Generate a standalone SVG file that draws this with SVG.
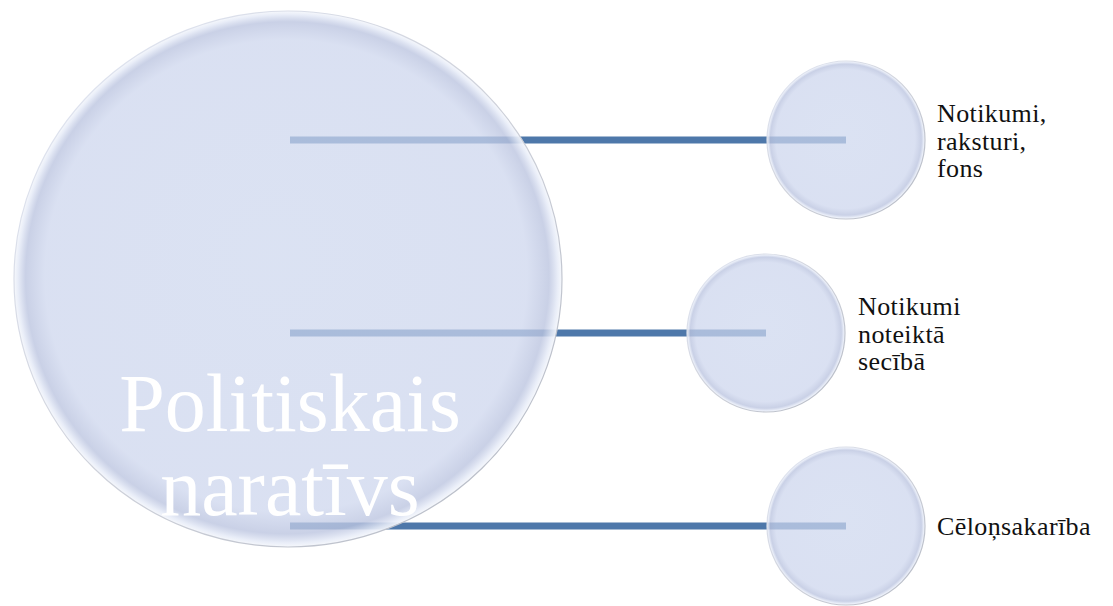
<svg xmlns="http://www.w3.org/2000/svg" width="1113" height="606" viewBox="0 0 1113 606">
  <defs>
    <radialGradient id="bubble" cx="0.5" cy="0.5" r="0.5" fx="0.47" fy="0.45">
      <stop offset="0" stop-color="#cdd7ee" stop-opacity="0.72"/>
      <stop offset="0.88" stop-color="#ccd5ed" stop-opacity="0.73"/>
      <stop offset="0.955" stop-color="#bcc5e0" stop-opacity="0.8"/>
      <stop offset="0.985" stop-color="#e6ebf7" stop-opacity="0.9"/>
      <stop offset="1" stop-color="#f6f8fc" stop-opacity="0.95"/>
    </radialGradient>
    <linearGradient id="rim" x1="0" y1="0" x2="1" y2="1">
      <stop offset="0" stop-color="#e4e9f6"/>
      <stop offset="0.5" stop-color="#cfd2db"/>
      <stop offset="1" stop-color="#b3b8c3"/>
    </linearGradient>
  </defs>
  <style>
    .conn { stroke: #4e78aa; stroke-width: 7; fill: none; }
    .bub { fill: url(#bubble); stroke: url(#rim); stroke-width: 1.2; }
    .big { font-family: "Liberation Serif", "DejaVu Serif", serif; font-size: 82px; fill: #ffffff; text-anchor: middle; }
    .lbl { font-family: "Liberation Serif", "DejaVu Serif", serif; font-size: 26px; letter-spacing: 0.4px; fill: #111111; }
  </style>
  <rect width="1113" height="606" fill="#ffffff"/>
  <g id="connectors">
    <line class="conn" x1="290" y1="140" x2="846" y2="140"/>
    <line class="conn" x1="290" y1="333" x2="766" y2="333"/>
    <line class="conn" x1="290" y1="526" x2="846" y2="526"/>
  </g>
  <g id="node-main">
    <ellipse class="bub" cx="288" cy="279" rx="274" ry="268"/>
    <text class="big" x="290" y="431">Politiskais</text>
    <text class="big" x="290" y="515">naratīvs</text>
  </g>
  <g id="node-1">
    <circle class="bub" cx="846" cy="140" r="79"/>
    <text class="lbl" x="937" y="122">Notikumi,</text>
    <text class="lbl" x="937" y="150">raksturi,</text>
    <text class="lbl" x="937" y="177">fons</text>
  </g>
  <g id="node-2">
    <circle class="bub" cx="766" cy="333" r="79"/>
    <text class="lbl" x="858" y="315">Notikumi</text>
    <text class="lbl" x="858" y="343">noteiktā</text>
    <text class="lbl" x="858" y="370">secībā</text>
  </g>
  <g id="node-3">
    <circle class="bub" cx="846" cy="526" r="79"/>
    <text class="lbl" x="937" y="535">Cēloņsakarība</text>
  </g>
</svg>
